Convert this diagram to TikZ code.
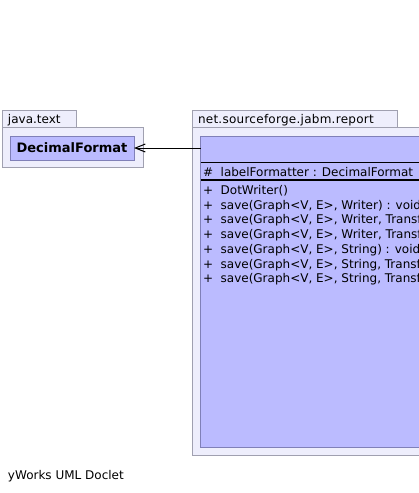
\documentclass[tikz,border=0pt]{standalone}
\usepackage{fontspec}
\setmainfont{DejaVu Sans}
\usetikzlibrary{arrows.meta}
\definecolor{pkgfill}{RGB}{238,238,252}
\definecolor{pkgline}{RGB}{160,160,176}
\definecolor{clsfill}{RGB}{187,187,255}
\definecolor{clsline}{RGB}{128,128,184}
\tikzset{
  pkg/.style={draw=pkgline, fill=pkgfill, line width=1pt},
  clsbox/.style={draw=clsline, fill=clsfill, line width=1pt, inner sep=0pt, outer sep=0pt},
  txt/.style={inner sep=0pt, outer sep=0pt, anchor=base west, font=\fontsize{12}{14}\selectfont},
  dep/.style={line width=1pt, -{Straight Barb[length=10pt,width=8pt,line width=1pt]}}
}
\begin{document}
\begin{tikzpicture}[x=1pt,y=-1pt]
\useasboundingbox (0,0) rectangle (419,493);
\clip (0,0) rectangle (419,493);
\fill[white] (0,0) rectangle (419,493);
% package java.text
\draw[pkg] (2.5,110.5) rectangle (76.5,127.5);
\draw[pkg] (2.5,127.5) rectangle (143.5,167.5);
\node[txt] (p1) at (8,123) {java.text};
\node[clsbox, minimum width=124pt, minimum height=24pt, font=\fontsize{13}{15}\bfseries] (df) at (72,148) {DecimalFormat};
% package net.sourceforge.jabm.report
\draw[pkg] (192.5,110.5) rectangle (397.5,127.5);
\draw[pkg] (192.5,127.5) rectangle (440,455.5);
\node[txt] (p2) at (198,123) {\addfontfeature{LetterSpace=2.2}net.sourceforge.jabm.report};
\node[clsbox, minimum width=240pt, minimum height=311pt] (dw) at (320.5,291.5) {};
\draw[line width=1pt] (dw.west |- 0,162.5) coordinate (s1) -- (s1 -| dw.east);
\draw[line width=2pt] (dw.west |- 0,180) coordinate (s2) -- (s2 -| dw.east);
\node[txt] (a1) at (203,176) {\#\ \ labelFormatter : DecimalFormat};
\node[txt] (m1) at (203,194.5) {+\ \ DotWriter()};
\node[txt] (m2) at (203,209.2) {+\ \ save(Graph<V, E>, Writer) : void};
\node[txt] (m3) at (203,223.9) {+\ \ save(Graph<V, E>, Writer, Transformer)};
\node[txt] (m4) at (203,238.6) {+\ \ save(Graph<V, E>, Writer, Transformer)};
\node[txt] (m5) at (203,253.3) {+\ \ save(Graph<V, E>, String) : void};
\node[txt] (m6) at (203,268) {+\ \ save(Graph<V, E>, String, Transformer)};
\node[txt] (m7) at (203,282.7) {+\ \ save(Graph<V, E>, String, Transformer)};
% dependency
\draw[dep] (df.east -| dw.west) -- (df.east);
\node[txt] (foot) at (8,479) {yWorks UML Doclet};
\end{tikzpicture}
\end{document}
